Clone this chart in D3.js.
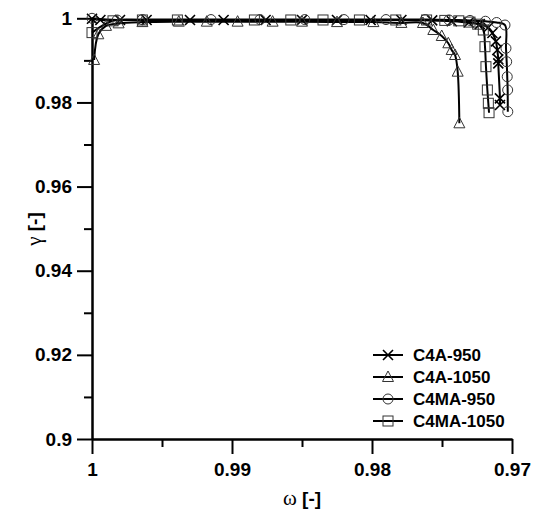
<!DOCTYPE html>
<html>
<head>
<meta charset="utf-8">
<script src="https://cdn.jsdelivr.net/npm/d3@7"></script>
<style>
  body { margin: 0; background: #fff; }
  svg text { font-family: Arial, "Liberation Sans", sans-serif; }
</style>
</head>
<body>
<svg width="534" height="511"></svg>
<script>
// omega / gamma readings per series
const omegaA950 = [1.0000, 0.9994, 0.9980, 0.9961, 0.9930, 0.9906, 0.9876, 0.9850, 0.9825, 0.9801, 0.9779, 0.9757, 0.9743, 0.9731, 0.9723, 0.9717, 0.9714, 0.97115, 0.97105, 0.97098, 0.97098, 0.97086, 0.97086]
const gammaA950 = [0.9999, 0.9996, 0.9996, 0.9996, 0.9996, 0.9996, 0.9996, 0.9996, 0.9996, 0.9996, 0.9996, 0.9995, 0.9993, 0.9990, 0.9986, 0.9978, 0.9965, 0.9945, 0.99246, 0.99025, 0.98930, 0.98098, 0.97939]

const omegaA1050 = [0.99985, 0.99955, 0.9990, 0.9981, 0.9964, 0.9938, 0.9918, 0.9896, 0.9871, 0.9850, 0.9825, 0.9799, 0.9779, 0.97636, 0.97562, 0.97502, 0.97455, 0.97431, 0.97407, 0.97388, 0.97376]
const gammaA1050 = [0.9901, 0.9962, 0.9982, 0.9988, 0.9991, 0.9992, 0.9992, 0.9992, 0.9992, 0.9992, 0.9991, 0.9991, 0.9989, 0.99888, 0.99722, 0.99579, 0.99406, 0.99246, 0.99128, 0.98731, 0.97504]

const omegaMA950 = [1.0000, 0.9982, 0.9964, 0.9915, 0.9880, 0.9848, 0.9820, 0.9790, 0.9762, 0.9745, 0.9730, 0.9719, 0.9711, 0.97050, 0.97043, 0.97038, 0.97034, 0.97031, 0.97030]
const gammaMA950 = [1.0000, 0.9996, 0.9997, 0.9997, 0.9997, 0.9997, 0.9997, 0.9997, 0.9997, 0.9996, 0.9995, 0.9993, 0.9990, 0.9984, 0.99287, 0.98968, 0.98612, 0.98296, 0.97780]

const omegaMA1050 = [1.0000, 0.9985, 0.9964, 0.9939, 0.9884, 0.9858, 0.9835, 0.9809, 0.9783, 0.9761, 0.9748, 0.9738, 0.9730, 0.97245, 0.97205, 0.97193, 0.97186, 0.97176, 0.97169, 0.97164]
const gammaMA1050 = [0.9966, 0.9994, 0.9996, 0.9996, 0.9996, 0.9996, 0.9996, 0.9996, 0.9996, 0.9996, 0.9995, 0.9994, 0.9991, 0.9986, 0.99722, 0.99325, 0.98850, 0.98296, 0.97980, 0.97756]

const seriesNames = ['C4A-950', 'C4A-1050', 'C4MA-950', 'C4MA-1050']
const markerTypes = ['cross', 'triangle', 'circle', 'square']

const xTicks = [1, 0.99, 0.98, 0.97]
const xMinor = [0.995, 0.985, 0.975]
const yTicks = [0.9, 0.92, 0.94, 0.96, 0.98, 1]
const yMinor = [0.91, 0.93, 0.95, 0.97, 0.99]

const series = [
    {name: seriesNames[0], marker: markerTypes[0], pts: omegaA950.map((w, i) => [w, gammaA950[i]])},
    {name: seriesNames[1], marker: markerTypes[1], pts: omegaA1050.map((w, i) => [w, gammaA1050[i]])},
    {name: seriesNames[2], marker: markerTypes[2], pts: omegaMA950.map((w, i) => [w, gammaMA950[i]])},
    {name: seriesNames[3], marker: markerTypes[3], pts: omegaMA1050.map((w, i) => [w, gammaMA1050[i]])}
]

const svg = d3.select('svg')

const x = d3.scaleLinear().domain([1, 0.97]).range([92, 512])
const y = d3.scaleLinear().domain([0.9, 1]).range([439, 18.3])

// axes
function styleAxis (g) {
    g.select('.domain').attr('stroke', '#000').attr('stroke-width', 2)
    g.selectAll('.tick line').attr('stroke', '#000').attr('stroke-width', 2)
    g.selectAll('.tick text')
    .attr('fill', '#000')
    .style('font-size', '19px')
    .style('font-weight', 'bold')
}

svg.append('g')
.attr('transform', 'translate(0,439)')
.call(d3.axisBottom(x).tickValues(xMinor).tickSize(8).tickSizeOuter(0).tickFormat(''))
.call(styleAxis)

svg.append('g')
.attr('transform', 'translate(92,0)')
.call(d3.axisLeft(y).tickValues(yMinor).tickSize(8).tickSizeOuter(0).tickFormat(''))
.call(styleAxis)

svg.append('g')
.attr('transform', 'translate(0,439)')
.call(d3.axisBottom(x).tickValues(xTicks).tickSize(15).tickSizeOuter(0).tickPadding(9).tickFormat(d3.format('')))
.call(styleAxis)

svg.append('g')
.attr('transform', 'translate(92,0)')
.call(d3.axisLeft(y).tickValues(yTicks).tickSize(15).tickSizeOuter(0).tickPadding(5).tickFormat(d3.format('')))
.call(styleAxis)

// axis titles
let xt = svg.append('text')
.attr('x', 302)
.attr('y', 505)
.attr('text-anchor', 'middle')
.style('font-size', '19px')
xt.append('tspan').text('ω').style('font-family', '"Liberation Serif", "DejaVu Serif", serif').style('font-size', '21px')
xt.append('tspan').text(' [-]').style('font-weight', 'bold')

let yt = svg.append('text')
.attr('transform', 'translate(41,229) rotate(-90)')
.attr('text-anchor', 'middle')
.style('font-size', '19px')
yt.append('tspan').text('γ').style('font-family', '"Liberation Serif", "DejaVu Serif", serif').style('font-size', '21px')
yt.append('tspan').text(' [-]').style('font-weight', 'bold')

// curves
const line = d3.line()
.x(d => x(d[0]))
.y(d => y(d[1]))
.curve(d3.curveCatmullRom.alpha(0.5))

svg.selectAll('path.curve')
.data(series)
.enter()
.append('path')
.attr('class', 'curve')
.attr('d', d => line(d.pts))
.attr('fill', 'none')
.attr('stroke', '#000')
.attr('stroke-width', 2)

function drawMarker (g, type, cx, cy) {
    const s = 5
    if (type === 'cross') {
        g.append('path')
        .attr('d', `M${cx - s},${cy - s}L${cx + s},${cy + s}M${cx - s},${cy + s}L${cx + s},${cy - s}`)
        .attr('stroke', '#000').attr('stroke-width', 1.6).attr('fill', 'none')
    } else if (type === 'triangle') {
        g.append('path')
        .attr('d', `M${cx},${cy - s - 1}L${cx + s + 0.5},${cy + s - 0.5}L${cx - s - 0.5},${cy + s - 0.5}Z`)
        .attr('stroke', '#333').attr('stroke-width', 1).attr('fill', 'none')
    } else if (type === 'circle') {
        g.append('circle')
        .attr('cx', cx).attr('cy', cy).attr('r', s)
        .attr('stroke', '#333').attr('stroke-width', 1).attr('fill', 'none')
    } else {
        g.append('rect')
        .attr('x', cx - s).attr('y', cy - s).attr('width', 2 * s).attr('height', 2 * s)
        .attr('stroke', '#333').attr('stroke-width', 1).attr('fill', 'none')
    }
}

const markers = svg.append('g')
series.forEach(s => {
    s.pts.forEach(p => drawMarker(markers, s.marker, x(p[0]), y(p[1])))
})

// legend
const legend = svg.append('g')
series.forEach((s, i) => {
    const ly = 355 + i * 22
    legend.append('line')
    .attr('x1', 373).attr('x2', 403)
    .attr('y1', ly).attr('y2', ly)
    .attr('stroke', '#000').attr('stroke-width', 2)
    drawMarker(legend, s.marker, 388, ly)
    legend.append('text')
    .attr('x', 413)
    .attr('y', ly + 6)
    .style('font-size', '17px')
    .style('font-weight', 'bold')
    .text(s.name)
})
</script>
</body>
</html>
